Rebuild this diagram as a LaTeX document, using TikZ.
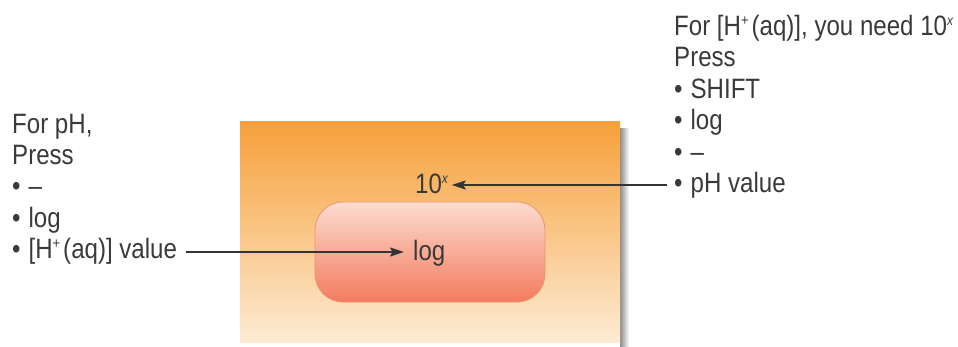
\documentclass[tikz,border=0pt]{standalone}
\usepackage{fontspec}
\setmainfont{Liberation Sans}[FakeStretch=0.86]
\usetikzlibrary{arrows.meta,calc}
\definecolor{txt}{HTML}{3A3A3A}
\definecolor{outertop}{HTML}{F6A03A}
\definecolor{outerbot}{HTML}{FDEBD3}
\definecolor{innertop}{HTML}{FCDCCF}
\definecolor{innerbot}{HTML}{F37B5E}
\definecolor{innerline}{HTML}{EE9470}
\newcommand{\bul}{•\hspace{8pt}}
\newcommand{\supx}{\textsuperscript{\fontsize{14}{14}\selectfont\itshape x}}
\newcommand{\supplus}{\textsuperscript{\fontsize{15}{15}\selectfont +}\hspace{2.5pt}}
\begin{document}
\begin{tikzpicture}[x=1pt,y=-1pt,
  lbl/.style={anchor=base west,inner sep=0pt,text=txt,font=\fontsize{28}{32}\selectfont},
  arr/.style={draw=txt!90!black,line width=1.6pt,-{Stealth[length=14pt,width=9pt,inset=2.5pt]}}]
\useasboundingbox (0,0) rectangle (958,346);
% shadow
\shade[left color=black!45,right color=white] (620,128) rectangle (629,346);
% outer box
\shade[top color=outertop,bottom color=outerbot] (240,121) rectangle (620,342);
% inner rounded box
\node (inner) [draw=innerline,line width=0.8pt,rounded corners=28pt,top color=innertop,bottom color=innerbot,
  minimum width=230pt,minimum height=100pt,inner sep=0pt] at (430,252) {};
% labels inside
\node (tenx) [lbl] at (415,193) {10\supx};
\node (logk) [lbl] at (413,260) {log};
% left text
\node (l1) [lbl] at (12,133) {For pH,};
\node (l2) [lbl] at (12,164) {Press};
\node (l3) [lbl] at (12,195) {\bul–};
\node (l4) [lbl] at (12,227) {\bul log};
\node (l5) [lbl] at (12,258) {\bul[H\supplus(aq)] value};
% right text
\node (r1) [lbl] at (674,35) {For [H\supplus(aq)], you need 10\supx};
\node (r2) [lbl] at (674,66) {Press};
\node (r3) [lbl] at (674,98) {\bul SHIFT};
\node (r4) [lbl] at (674,129) {\bul log};
\node (r5) [lbl] at (674,161) {\bul–};
\node (r6) [lbl] at (674,192) {\bul pH value};
% arrows
\coordinate (a1s) at ($(l5.base east)+(9,-6)$);
\coordinate (a1e) at ($(logk.base west)+(-9,-7)$);
\draw[arr] (a1s) -- (a1e |- a1s);
\coordinate (a2s) at ($(r6.base west)+(-7,-7)$);
\coordinate (a2e) at ($(tenx.base east)+(3,-7)$);
\draw[arr] (a2s) -- (a2e |- a2s);
\end{tikzpicture}
\end{document}
